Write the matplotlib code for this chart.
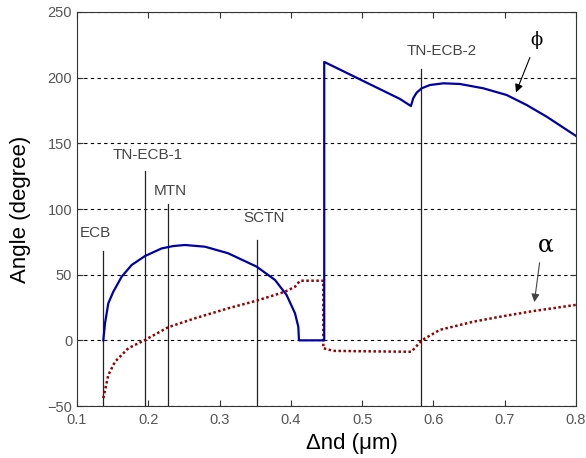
import numpy as np
import matplotlib.pyplot as plt

plt.rcParams['font.family'] = ['Liberation Sans', 'DejaVu Sans']

# -----------------------------
# Data
# -----------------------------
phi_x = [0.1369, 0.1393, 0.1439, 0.1509, 0.1627, 0.1767, 0.1954, 0.2188, 0.235, 0.2515,
         0.2795, 0.312, 0.352, 0.3777, 0.394, 0.4058, 0.4104, 0.4114, 0.4468, 0.4468,
         0.553, 0.5684, 0.5716, 0.5764, 0.5834, 0.595, 0.6138, 0.637, 0.670, 0.7027,
         0.7307, 0.7588, 0.800]
phi_y = [0.0, 13.0, 28.2, 37.0, 48.5, 57.4, 64.2, 70.0, 71.8, 72.6,
         71.3, 66.3, 56.1, 46.0, 34.5, 20.6, 10.4, 0.0, 0.0, 212.0,
         183.8, 178.4, 184.3, 188.6, 191.9, 194.4, 195.7, 195.2, 191.9, 186.8,
         179.2, 170.3, 155.6]

alpha_x = [0.1369, 0.1439, 0.1533, 0.172, 0.1954, 0.228, 0.2655, 0.312, 0.352, 0.3917,
           0.4058, 0.4128, 0.4455, 0.4455, 0.4595, 0.500, 0.569, 0.5835, 0.609,
           0.656, 0.6935, 0.740, 0.800]
alpha_y = [-44.0, -26.4, -16.3, -6.0, 0.3, 10.0, 16.8, 24.4, 30.2, 37.0,
           40.8, 45.4, 45.4, -6.0, -8.0, -8.3, -8.7, 0.0, 8.0,
           14.2, 18.0, 22.3, 27.0]

# mode boundaries: name, line position, line top, label position
mode_names = ['ECB', 'TN-ECB-1', 'MTN', 'SCTN', 'TN-ECB-2']
mode_x = [0.137, 0.1954, 0.228, 0.352, 0.5825]
mode_top = [68.3, 129.2, 103.8, 76.4, 206.4]
label_x = [0.1252, 0.1989, 0.2309, 0.3627, 0.612]
label_y = [81.7, 141.1, 114.0, 92.9, 220.5]

# -----------------------------
# Plot
# -----------------------------
fig = plt.figure(figsize=(5.86, 4.58), dpi=100)
ax = fig.add_axes([0.1314, 0.1135, 0.8516, 0.8603])

ax.set_xlim(0.1, 0.8)
ax.set_ylim(-50, 250)
ax.set_xticks(np.arange(0.1, 0.81, 0.1))
ax.set_yticks(np.arange(-50, 251, 50))
ax.set_xticklabels(['0.1', '0.2', '0.3', '0.4', '0.5', '0.6', '0.7', '0.8'])
ax.yaxis.grid(True, linestyle=(0, (3, 3)), color='black', linewidth=0.8)
ax.set_axisbelow(True)

for xv, top in zip(mode_x, mode_top):
    ax.plot([xv, xv], [-50, top], color='#222222', linewidth=0.9, zorder=2)
for name, lx, ly in zip(mode_names, label_x, label_y):
    ax.text(lx, ly, name, fontsize=11, color='#444444', ha='center', va='center')

ax.plot(alpha_x, alpha_y, color='#990000', linewidth=1.8, linestyle=(0, (1, 1)), zorder=3)
ax.plot(phi_x, phi_y, color='#0000aa', linewidth=1.6, zorder=4)

# symbol labels with arrows
ax.annotate('', xy=(0.7143, 186.8), xytext=(0.7367, 217.3),
            arrowprops=dict(arrowstyle='-|>', color='black', lw=0.8, mutation_scale=12))
ax.text(0.7447, 228.7, '\u03d5', fontsize=13, family=['DejaVu Serif'], ha='center', va='center')
ax.annotate('', xy=(0.741, 27), xytext=(0.7494, 61.2),
            arrowprops=dict(arrowstyle='-|>', color='#444444', lw=0.8, mutation_scale=12))
ax.text(0.7578, 72.6, '\u03b1', fontsize=17, family=['DejaVu Serif'], ha='center', va='center')

ax.tick_params(direction='in', length=4, top=True, right=True, labelsize=10.5,
               labelcolor='#555555', color='#333333')
ax.tick_params(axis='x', pad=5)
for s in ax.spines.values():
    s.set_color('#333333')

ax.set_xlabel('\u0394nd (\u03bcm)', fontsize=16)
ax.xaxis.set_label_coords(0.55, -0.094, transform=ax.transAxes)
ax.xaxis.label.set_va('center')
ax.set_ylabel('Angle (degree)', fontsize=16, labelpad=12)

fig.savefig('out.png', dpi=100)
